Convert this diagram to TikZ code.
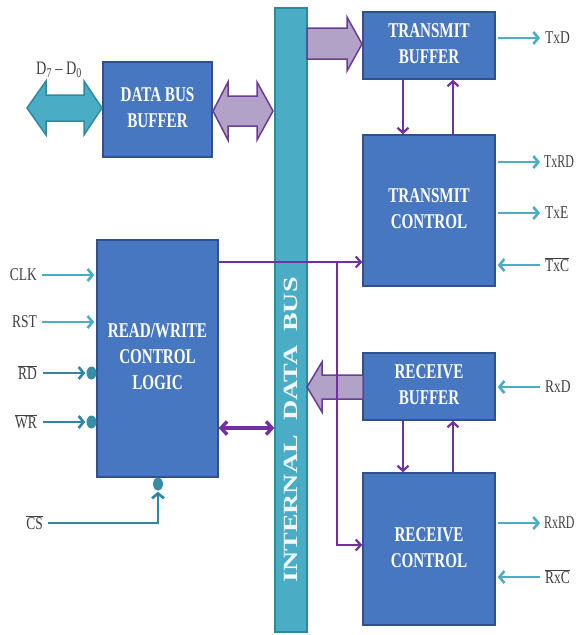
\documentclass[tikz,border=0pt]{standalone}
\usepackage{fontspec}
\setmainfont{Liberation Serif}
\usetikzlibrary{arrows.meta,shapes.geometric}
\definecolor{boxblue}{HTML}{4877C2}
\definecolor{boxline}{HTML}{2F528F}
\definecolor{aqua}{HTML}{4BACC6}
\definecolor{aquadark}{HTML}{31859C}
\definecolor{aquaedge}{HTML}{2E8AA3}
\definecolor{plum}{HTML}{7030A0}
\definecolor{lav}{HTML}{B3A2C7}
\definecolor{lavedge}{HTML}{6A3C98}
\definecolor{lblgrey}{HTML}{404040}
\newcommand{\btext}[1]{\scalebox{0.72}[1]{\begin{tabular}{@{}c@{}}#1\end{tabular}}}
\newcommand{\sqz}[1]{\scalebox{0.75}[1]{#1}}
\newcommand{\sqzz}[1]{\scalebox{0.66}[1]{#1}}
\newcommand{\ovl}[1]{$\overline{\hbox{#1}}$}
\begin{document}
\begin{tikzpicture}[x=1pt,y=-1pt,
  blk/.style={rectangle,draw=boxline,fill=boxblue,line width=1.5pt,text=white,
    font=\fontsize{21}{26}\selectfont\bfseries,inner sep=0pt},
  busbar/.style={rectangle,draw=aquaedge,fill=aqua,line width=1.2pt,minimum width=32pt,minimum height=624pt,inner sep=0pt},
  lbl/.style={text=lblgrey,font=\fontsize{18}{20}\selectfont,inner sep=0pt},
  carr/.style={draw=aqua,line width=2.6pt,-{Straight Barb[length=5pt,width=12pt]}},
  darr/.style={draw=aquadark,line width=2.6pt,-{Straight Barb[length=5pt,width=12pt]}},
  parr/.style={draw=plum,line width=2.2pt,-{Straight Barb[length=5pt,width=11pt]}},
  pdarr/.style={draw=plum,line width=3.4pt,{Straight Barb[length=6pt,width=13pt]}-{Straight Barb[length=6pt,width=13pt]}},
  fatp/.style={draw=lavedge,fill=lav,line width=1.5pt,line join=miter},
  fatc/.style={draw=aquaedge,fill=aqua,line width=1.5pt,line join=miter},
  bubble/.style={ellipse,fill=aquadark!80!aqua,minimum width=10pt,minimum height=13pt,inner sep=0pt}
]
\useasboundingbox (0,0) rectangle (577,635);
\fill[white] (0,0) rectangle (577,635);

% internal data bus
\node[busbar] (bus) at (291,320) {};
\node[rotate=90,text=white!92!aqua,font=\fontsize{28}{30}\selectfont\bfseries,inner sep=0pt] (bustxt) at (291,430)
  {\scalebox{1}[0.72]{INTERNAL\ \ DATA\ \ BUS}};

% blocks
\node[blk,minimum width=109pt,minimum height=95pt] (dbb) at (157.5,109.5) {\btext{DATA BUS\\BUFFER}};
\node[blk,minimum width=121pt,minimum height=237pt] (rw) at (157.5,358.5) {\raisebox{8pt}{\btext{READ/WRITE\\CONTROL\\LOGIC}}};
\node[blk,minimum width=132pt,minimum height=67pt] (tb) at (429,45.5) {\btext{TRANSMIT\\BUFFER}};
\node[blk,minimum width=132pt,minimum height=151pt] (tc) at (429,210.5) {\btext{TRANSMIT\\CONTROL}};
\node[blk,minimum width=132pt,minimum height=67pt] (rb) at (429,386.5) {\btext{RECEIVE\\BUFFER}};
\node[blk,minimum width=132pt,minimum height=152pt] (rc) at (429,549) {\raisebox{6pt}{\btext{RECEIVE\\CONTROL}}};

% fat arrows
\draw[fatc] (27,108) -- (46,81) -- (46,95) -- (84,95) -- (84,81) -- (102,108)
  -- (84,135) -- (84,121) -- (46,121) -- (46,135) -- cycle;
\node[lbl,font=\fontsize{19}{20}\selectfont] (dlbl) at (59,70) {\sqz{D\textsubscript{7} -- D\textsubscript{0}}};
\draw[fatp] (213,111) -- (228,82) -- (228,96) -- (257,96) -- (257,82) -- (273,111)
  -- (257,140) -- (257,126) -- (228,126) -- (228,140) -- cycle;
\draw[fatp] (307,28) -- (347,28) -- (347,17) -- (362,44) -- (347,71) -- (347,59) -- (307,59) -- cycle;
\draw[fatp] (363,375) -- (322,375) -- (322,362) -- (307,387) -- (322,412) -- (322,399) -- (363,399) -- cycle;

% right-hand signals
\node[lbl,anchor=west] (txd) at (545,38) {\sqz{TxD}};
\node[lbl,anchor=west] (txrd) at (544,162) {\sqzz{TxRD}};
\node[lbl,anchor=west] (txe) at (545,213) {\sqz{TxE}};
\node[lbl,anchor=west] (txc) at (545,265) {\sqz{\ovl{TxC}}};
\node[lbl,anchor=west] (rxd) at (545,387) {\sqz{RxD}};
\node[lbl,anchor=west] (rxrd) at (544,523) {\sqzz{RxRD}};
\node[lbl,anchor=west] (rxc) at (545,577) {\sqz{\ovl{RxC}}};
\draw[carr] ([xshift=2pt]tb.east |- 0,38) -- (540,38);
\draw[carr] ([xshift=2pt]tc.east |- 0,162) -- (540,162);
\draw[carr] ([xshift=2pt]tc.east |- 0,213) -- (540,213);
\draw[carr] (540,265) -- ([xshift=2pt]tc.east |- 0,265);
\draw[carr] (540,387) -- ([xshift=2pt]rb.east |- 0,387);
\draw[carr] ([xshift=2pt]rc.east |- 0,523) -- (540,523);
\draw[carr] (540,577) -- ([xshift=2pt]rc.east |- 0,577);

% left-hand signals
\node[lbl,anchor=east] (clk) at (37,275) {\sqz{CLK}};
\node[lbl,anchor=east] (rst) at (37,322) {\sqz{RST}};
\node[lbl,anchor=east] (rd) at (37,373) {\sqz{\ovl{RD}}};
\node[lbl,anchor=east] (wr) at (37,422) {\sqz{\ovl{WR}}};
\node[lbl,anchor=east] (cs) at (43,523) {\sqz{\ovl{CS}}};
\draw[carr] ([xshift=5pt]clk.east) -- ([xshift=-2pt]rw.west |- clk);
\draw[carr] ([xshift=5pt]rst.east) -- ([xshift=-2pt]rw.west |- rst);
\node[bubble] (rdb) at (91.5,373) {};
\node[bubble] (wrb) at (91.5,422) {};
\node[bubble] (csb) at (158,484) {};
\draw[darr] ([xshift=6pt]rd.east) -- ([xshift=-1pt]rdb.west);
\draw[darr] ([xshift=6pt]wr.east) -- ([xshift=-1pt]wrb.west);
\draw[darr] ([xshift=5pt]cs.east) -| ([yshift=-1pt]csb.south);

% purple control lines
\draw[parr] ([xshift=-26pt]tb.south) -- ([xshift=-26pt]tc.north);
\draw[parr] ([xshift=24pt]tc.north) -- ([xshift=24pt]tb.south);
\draw[parr] ([xshift=-26pt]rb.south) -- ([xshift=-26pt]rc.north);
\draw[parr] ([xshift=24pt]rc.north) -- ([xshift=24pt]rb.south);
\coordinate (j1) at (337,262);
\draw[parr] (rw.east |- j1) -- (tc.west |- j1);
\draw[parr] (j1) |- (rc.west |- 0,545);
\draw[pdarr] (rw.east |- 0,428) -- (bus.west |- 0,428);
\end{tikzpicture}
\end{document}
